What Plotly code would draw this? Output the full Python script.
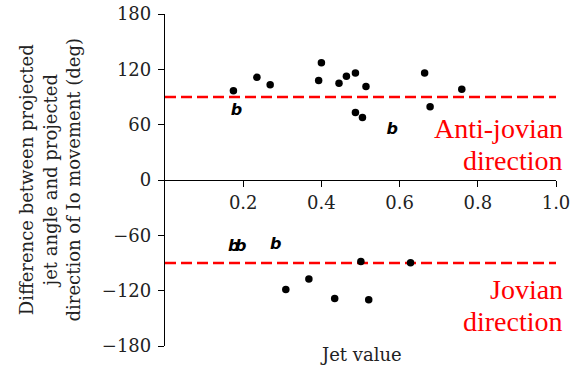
import plotly.graph_objects as go

# Data
anti_x = [0.175, 0.235, 0.269, 0.400, 0.393, 0.445, 0.464, 0.487, 0.514, 0.487, 0.505, 0.664, 0.678, 0.759]
anti_y = [96.9, 111.3, 103.4, 127.2, 108.0, 104.8, 112.4, 116.0, 101.5, 73.3, 67.9, 116.0, 79.5, 98.3]
jov_x = [0.309, 0.368, 0.434, 0.501, 0.521, 0.628]
jov_y = [-118.7, -107.4, -128.4, -88.3, -129.8, -89.7]

b_x = [0.183, 0.581, 0.176, 0.194, 0.283]
b_y = [75.2, 54.2, -73.1, -73.1, -70.2]
b_text = ["b", "b", "b", "b", "b"]

ref_x = [0.0, 1.0]
anti_ref = [90, 90]
jov_ref = [-90, -90]

x_ticks = [0.2, 0.4, 0.6, 0.8, 1.0]
x_ticktext = ["0.2", "0.4", "0.6", "0.8", "1.0"]
y_ticks = [-180, -120, -60, 0, 60, 120, 180]
y_ticktext = ["\u2212180", "\u2212120", "\u221260", "0", "60", "120", "180"]

serif = "DejaVu Serif"
red = "#ff0000"

fig = go.Figure()
fig.add_trace(go.Scatter(x=ref_x, y=anti_ref, mode="lines",
                         line=dict(color=red, width=2.7, dash="11px,5px"), hoverinfo="skip"))
fig.add_trace(go.Scatter(x=ref_x, y=jov_ref, mode="lines",
                         line=dict(color=red, width=2.7, dash="11px,5px"), hoverinfo="skip"))
fig.add_trace(go.Scatter(x=anti_x + jov_x, y=anti_y + jov_y, mode="markers",
                         marker=dict(color="black", size=7.5, line=dict(width=0))))
fig.add_trace(go.Scatter(x=b_x, y=b_y, mode="text", text=b_text,
                         textposition="middle center",
                         textfont=dict(family="DejaVu Sans", size=16, color="black",
                                       weight="bold", style="italic")))

ann_font = dict(family="'Liberation Serif', 'Times New Roman', serif", size=28, color=red)
annotations = [
    dict(text="Anti-jovian", x=1.022, y=55.6, xref="paper", yref="y", xanchor="right", yanchor="middle",
         showarrow=False, font=ann_font),
    dict(text="direction", x=1.022, y=20.9, xref="paper", yref="y", xanchor="right", yanchor="middle",
         showarrow=False, font=ann_font),
    dict(text="Jovian", x=1.022, y=-119.0, xref="paper", yref="y", xanchor="right", yanchor="middle",
         showarrow=False, font=ann_font),
    dict(text="direction", x=1.022, y=-153.7, xref="paper", yref="y", xanchor="right", yanchor="middle",
         showarrow=False, font=ann_font),
    dict(text="Difference between projected<br>jet angle and projected<br>direction of Io movement (deg)",
         x=-0.293, y=0.5, xref="paper", yref="paper", xanchor="center", yanchor="middle",
         textangle=-90, showarrow=False, font=dict(family=serif, size=18, color="#222")),
    dict(text="Jet value", x=0.5, y=-0.027, xref="paper", yref="paper", xanchor="center",
         yanchor="middle", showarrow=False, font=dict(family=serif, size=18, color="#222")),
]

fig.update_layout(
    width=584, height=376,
    margin=dict(l=165, r=28, t=14, b=30),
    paper_bgcolor="white", plot_bgcolor="white",
    showlegend=False,
    annotations=annotations,
    xaxis=dict(range=[0, 1], tickvals=x_ticks, ticktext=x_ticktext, automargin=False,
               showgrid=False, zeroline=False, showline=True, linecolor="black", linewidth=1.3,
               ticks="outside", ticklen=6, tickwidth=1.3, tickcolor="black",
               anchor="free", position=0.5,
               tickfont=dict(family=serif, size=18, color="#222")),
    yaxis=dict(range=[-180, 180], tickvals=y_ticks, ticktext=y_ticktext, automargin=False,
               showgrid=False, zeroline=False, showline=True, linecolor="black", linewidth=1.3,
               ticks="outside", ticklen=6, tickwidth=1.3, tickcolor="black",
               ticklabelstandoff=3,
               tickfont=dict(family=serif, size=18, color="#222")),
)

fig.write_html("out.html")
